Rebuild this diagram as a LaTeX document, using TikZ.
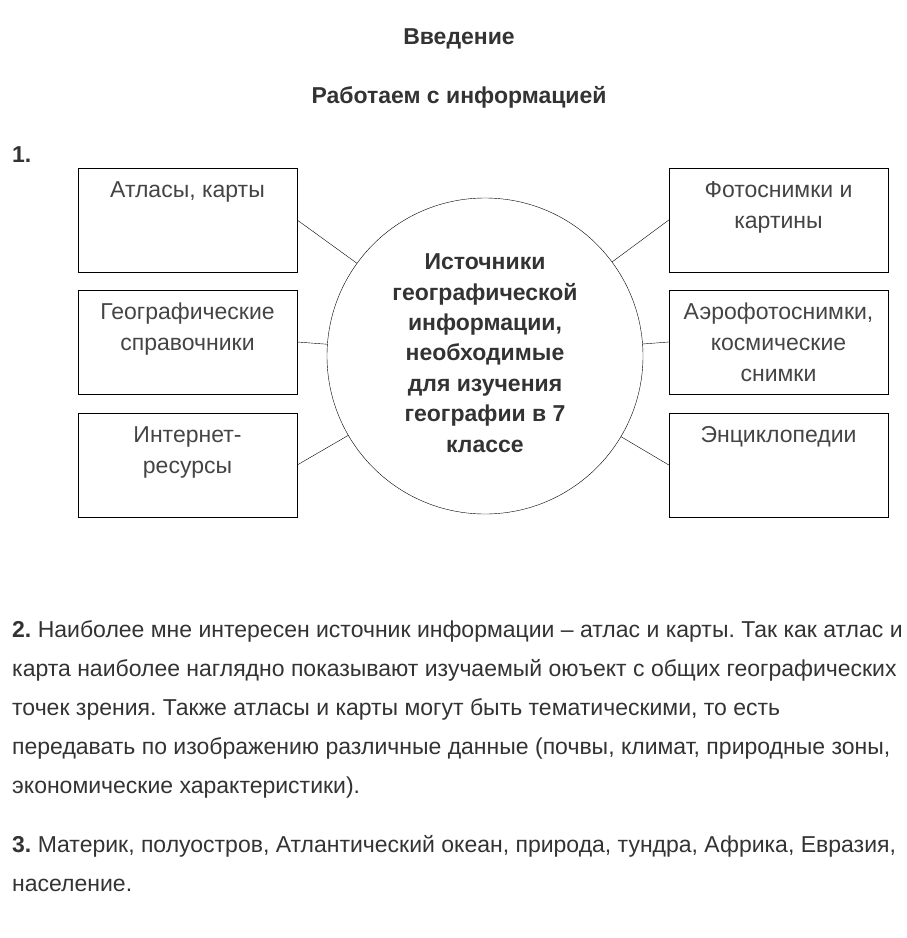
\documentclass[tikz,border=0pt]{standalone}
\usepackage{fontspec}
\setmainfont{Liberation Sans}
\usetikzlibrary{positioning}
\frenchspacing
\definecolor{inkdark}{HTML}{333333}
\definecolor{inkgray}{HTML}{444444}
\newcommand{\boxtext}[1]{\parbox[c][104pt][t]{219pt}{\centering\rule{0pt}{29pt}#1}}
\tikzset{
    srcbox/.style={draw, thin, inner sep=0pt, text=inkgray, font=\fontsize{23}{31}\selectfont},
    hub/.style={draw, thin, circle, minimum size=316pt, inner sep=0pt, align=center, text=inkdark, font=\fontsize{23}{30.4}\selectfont\bfseries},
    heading/.style={anchor=base, text=inkdark, font=\fontsize{23}{28}\selectfont\bfseries},
    para/.style={anchor=base west, inner sep=0pt, text=inkdark, font=\fontsize{23}{28}\selectfont}
}
\begin{document}
\begin{tikzpicture}[x=1pt, y=-1pt]
    \useasboundingbox (0,0) rectangle (907,938);
    % headings
    \node[heading] (intro) at (459,44) {Введение};
    \node[heading] (work) at (459,103) {Работаем с информацией};
    \node[para, font=\fontsize{23}{28}\selectfont\bfseries] (q1) at (12,162) {1.};
    % central circle
    \node[hub] (src) at (485,356) {Источники\\географической\\информации,\\необходимые\\для изучения\\географии в 7\\классе\rule[-6pt]{0pt}{6pt}};
    % left boxes
    \node[srcbox] (atlas) at (187.5,220) {\boxtext{Атласы, карты}};
    \node[srcbox] (guide) at (187.5,342) {\boxtext{Географические\\справочники}};
    \node[srcbox] (web) at (187.5,465) {\boxtext{Интернет-\\ресурсы}};
    % right boxes
    \node[srcbox] (photo) at (778.5,220) {\boxtext{Фотоснимки и\\картины}};
    \node[srcbox] (aero) at (778.5,342) {\boxtext{Аэрофотоснимки,\\космические\\снимки}};
    \node[srcbox] (encyc) at (778.5,465) {\boxtext{Энциклопедии}};
    % connectors
    \foreach \b in {atlas,guide,web} \draw[thin] (\b.east) -- (src);
    \foreach \b in {photo,aero,encyc} \draw[thin] (\b.west) -- (src);
    % answers
    \node[para] (a1) at (12,637) {\textbf{2.} Наиболее мне интересен источник информации – атлас и карты. Так как атлас и};
    \node[para] (a2) at (12,676) {карта наиболее наглядно показывают изучаемый оюъект с общих географических};
    \node[para] (a3) at (12,715) {точек зрения. Также атласы и карты могут быть тематическими, то есть};
    \node[para] (a4) at (12,754) {передавать по изображению различные данные (почвы, климат, природные зоны,};
    \node[para] (a5) at (12,793) {экономические характеристики).};
    \node[para] (b1) at (12,852) {\textbf{3.} Материк, полуостров, Атлантический океан, природа, тундра, Африка, Евразия,};
    \node[para] (b2) at (12,891) {население.};
\end{tikzpicture}
\end{document}
